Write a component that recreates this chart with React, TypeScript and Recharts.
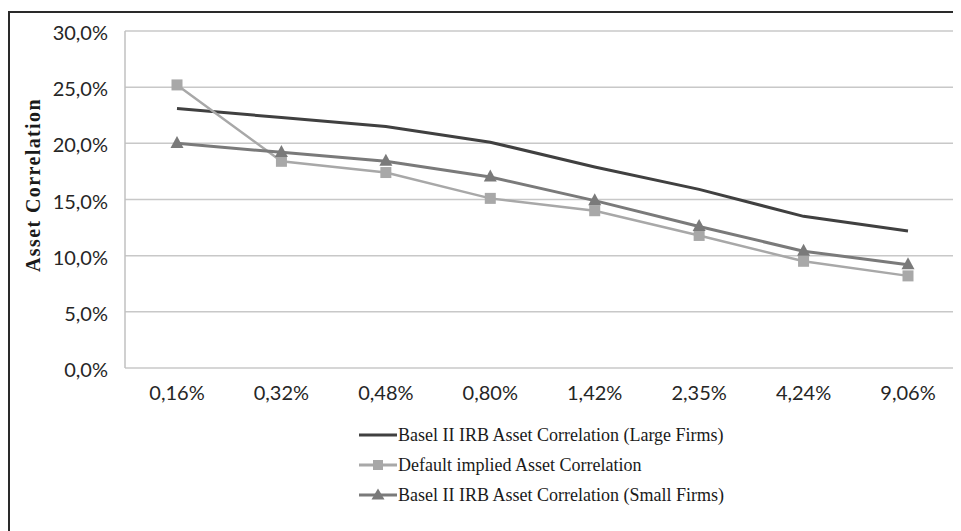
import React from 'react';
import { LineChart, Line, XAxis, YAxis, CartesianGrid, Legend, Label } from 'recharts';

const categories = ['0,16%', '0,32%', '0,48%', '0,80%', '1,42%', '2,35%', '4,24%', '9,06%'];
const largeFirms = [23.1, 22.3, 21.5, 20.1, 17.9, 15.9, 13.5, 12.2];
const defaultImplied = [25.2, 18.4, 17.4, 15.1, 14.0, 11.8, 9.5, 8.2];
const smallFirms = [20.0, 19.2, 18.4, 17.0, 14.9, 12.6, 10.4, 9.2];
const yTicks = [0, 5, 10, 15, 20, 25, 30];

const seriesNames = {
  large: 'Basel II IRB Asset Correlation (Large Firms)',
  def: 'Default implied Asset Correlation',
  small: 'Basel II IRB Asset Correlation (Small Firms)',
};

const COLORS = { large: '#404040', def: '#a8a8a8', small: '#7a7a7a' };

const data = categories.map((c, i) => ({
  cat: c,
  large: largeFirms[i],
  def: defaultImplied[i],
  small: smallFirms[i],
}));

const SquareDot = (props: any) => {
  const { cx, cy } = props;
  if (cx == null || cy == null) return null;
  const s = 11;
  return <rect x={cx - s / 2} y={cy - s / 2} width={s} height={s} fill={COLORS.def} />;
};

const TriangleDot = (props: any) => {
  const { cx, cy } = props;
  if (cx == null || cy == null) return null;
  const w = 13;
  const h = 12;
  return (
    <polygon
      points={`${cx},${cy - h * 0.62} ${cx + w / 2},${cy + h * 0.38} ${cx - w / 2},${cy + h * 0.38}`}
      fill={COLORS.small}
    />
  );
};

const fmtY = (v: number) => `${v.toFixed(1).replace('.', ',')}%`;

const LegendContent = () => {
  const rows = [
    { key: 'large', marker: null },
    { key: 'def', marker: 'square' },
    { key: 'small', marker: 'triangle' },
  ];
  return (
    <div style={{ fontFamily: '"Liberation Serif", "Times New Roman", serif', fontSize: 18, color: '#1a1a1a' }}>
      {rows.map((r) => {
        const col = (COLORS as any)[r.key];
        return (
          <div key={r.key} style={{ display: 'flex', alignItems: 'center', height: 30 }}>
            <svg width={40} height={30} style={{ display: 'block' }}>
              <line x1={1} y1={15} x2={39} y2={15} stroke={col} strokeWidth={3} />
              {r.marker === 'square' && <rect x={15} y={10} width={10} height={10} fill={col} />}
              {r.marker === 'triangle' && <polygon points="20,8.5 26.5,19.5 13.5,19.5" fill={col} />}
            </svg>
            <span style={{ whiteSpace: 'nowrap' }}>{(seriesNames as any)[r.key]}</span>
          </div>
        );
      })}
    </div>
  );
};

const tickStyle = { fontFamily: 'Lato, "Open Sans", sans-serif', fontSize: 20, fill: '#262626' };

export default function App() {
  return (
    <div
      style={{
        marginTop: 3,
        borderTop: '2px solid #2a2a2a',
        borderLeft: '2px solid #2a2a2a',
        width: 953,
        height: 520,
        boxSizing: 'border-box',
        background: '#fff',
      }}
    >
      <LineChart
        width={951}
        height={518}
        data={data}
        margin={{ top: 18, right: 1, left: 0, bottom: 123 }}
      >
        <CartesianGrid horizontal vertical={false} stroke="#c8c8c8" strokeWidth={1.5} />
        <XAxis
          dataKey="cat"
          axisLine={false}
          tickLine={false}
          tickSize={0}
          tickMargin={18}
          height={40}
          padding={{ left: 52, right: 52 }}
          interval={0}
          tick={tickStyle}
        />
        <YAxis
          domain={[0, 30]}
          ticks={yTicks}
          tickFormatter={fmtY}
          width={115}
          axisLine={{ stroke: '#c0c0c0', strokeWidth: 1.5 }}
          tickLine={false}
          tickSize={0}
          tickMargin={17}
          interval={0}
          tick={{ ...tickStyle, dy: 2 }}
        >
          <Label
            content={() => (
              <text
                x={23}
                y={172}
                transform="rotate(-90 23 172)"
                textAnchor="middle"
                dominantBaseline="central"
                fontFamily='"Liberation Serif", "Times New Roman", serif'
                fontWeight="bold"
                fontSize={20}
                letterSpacing={1.4}
                fill="#1a1a1a"
              >
                Asset Correlation
              </text>
            )}
          />
        </YAxis>
        <Legend
          layout="vertical"
          align="center"
          verticalAlign="middle"
          content={<LegendContent />}
          wrapperStyle={{ position: 'absolute', left: 348, top: 407, width: 500 }}
        />
        <Line
          type="linear"
          dataKey="large"
          name={seriesNames.large}
          stroke={COLORS.large}
          strokeWidth={3}
          dot={false}
          activeDot={false}
          isAnimationActive={false}
        />
        <Line
          type="linear"
          dataKey="def"
          name={seriesNames.def}
          stroke={COLORS.def}
          strokeWidth={2.5}
          dot={<SquareDot />}
          activeDot={false}
          isAnimationActive={false}
        />
        <Line
          type="linear"
          dataKey="small"
          name={seriesNames.small}
          stroke={COLORS.small}
          strokeWidth={3}
          dot={<TriangleDot />}
          activeDot={false}
          isAnimationActive={false}
        />
      </LineChart>
    </div>
  );
}
